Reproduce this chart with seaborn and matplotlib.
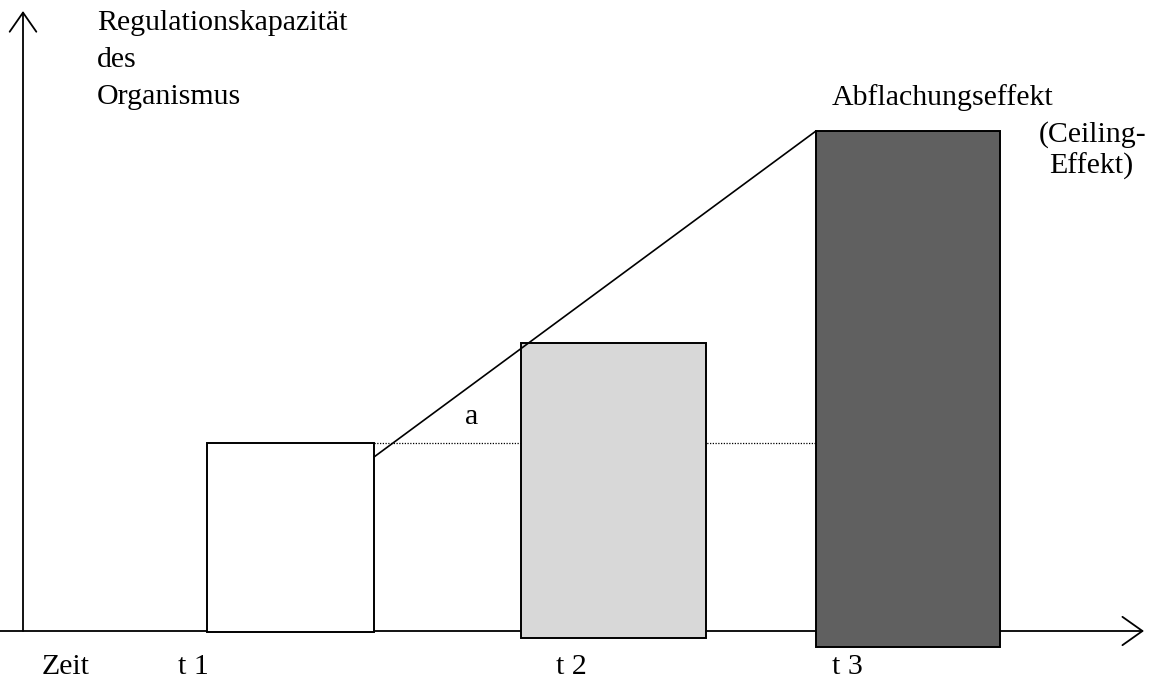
import matplotlib
matplotlib.use("Agg")
import matplotlib.pyplot as plt
import seaborn as sns
import pandas as pd

# ---- data (x in drawing units, y = height above the time axis) ----
labels = ["t 1", "t 2", "t 3"]
bar_left = [207, 521, 816]
bar_width = [167, 185, 184]
bar_top = [188, 288, 500]
bar_bottom = [-1, -7, -16]
bar_colors = ["#ffffff", "#d8d8d8", "#606060"]

trend_x = [374, 816]
trend_y = [174, 500]
ref_level = 188          # dotted reference line (top of t 1)
ref_x = [374, 816]

label_x = [178, 556, 832]

sns.set_theme(style="white")
plt.rcParams["font.family"] = ["Liberation Serif", "DejaVu Serif"]
plt.rcParams["text.color"] = "black"

fig = plt.figure(figsize=(11.56, 6.8), dpi=100)
ax = fig.add_axes([0, 0, 1, 1])
ax.set_xlim(0, 1156)
ax.set_ylim(-49, 631)
ax.axis("off")

BASE = 631  # pixel row of the time axis


def py(y_pix):
    return BASE - y_pix


# dotted reference line
sns.lineplot(x=ref_x, y=[ref_level, ref_level], ax=ax, color="black",
             linewidth=0.9, linestyle=(0, (1, 1.2)), zorder=1)

# bars
heights = [t - b for t, b in zip(bar_top, bar_bottom)]
ax.bar(bar_left, heights, width=bar_width, bottom=bar_bottom, align="edge",
       color=bar_colors, edgecolor="black", linewidth=1.4, zorder=2)

# rising line
df = pd.DataFrame({"x": trend_x, "y": trend_y})
sns.lineplot(data=df, x="x", y="y", ax=ax, color="black", linewidth=1.2, zorder=3)

# axes arrows
ax.annotate("", xy=(23, py(11)), xytext=(23, 0),
            arrowprops=dict(arrowstyle="->,head_length=1.15,head_width=0.8",
                            lw=1.3, color="black", shrinkA=0, shrinkB=0), zorder=4)
ax.annotate("", xy=(1144, 0), xytext=(0, 0),
            arrowprops=dict(arrowstyle="->,head_length=1.2,head_width=0.85",
                            lw=1.3, color="black", shrinkA=0, shrinkB=0), zorder=1)

fs = 21.5
ax.text(97, py(30), "Regulationskapazität", fontsize=fs, va="baseline", ha="left")
ax.text(97, py(67), "des", fontsize=fs, va="baseline", ha="left")
ax.text(97, py(104), "Organismus", fontsize=fs, va="baseline", ha="left")

ax.text(832, py(105), "Abflachungseffekt", fontsize=fs, va="baseline", ha="left")
ax.text(1146, py(142), "(Ceiling-", fontsize=fs, va="baseline", ha="right")
ax.text(1133, py(174), "Effekt)", fontsize=fs, va="baseline", ha="right")

ax.text(472, py(424), "a", fontsize=fs, va="baseline", ha="center")

ax.text(42, py(674), "Zeit", fontsize=fs, va="baseline", ha="left")
for lab, lx in zip(labels, label_x):
    ax.text(lx, py(674), lab, fontsize=fs, va="baseline", ha="left")

fig.savefig("out.png", dpi=100)
